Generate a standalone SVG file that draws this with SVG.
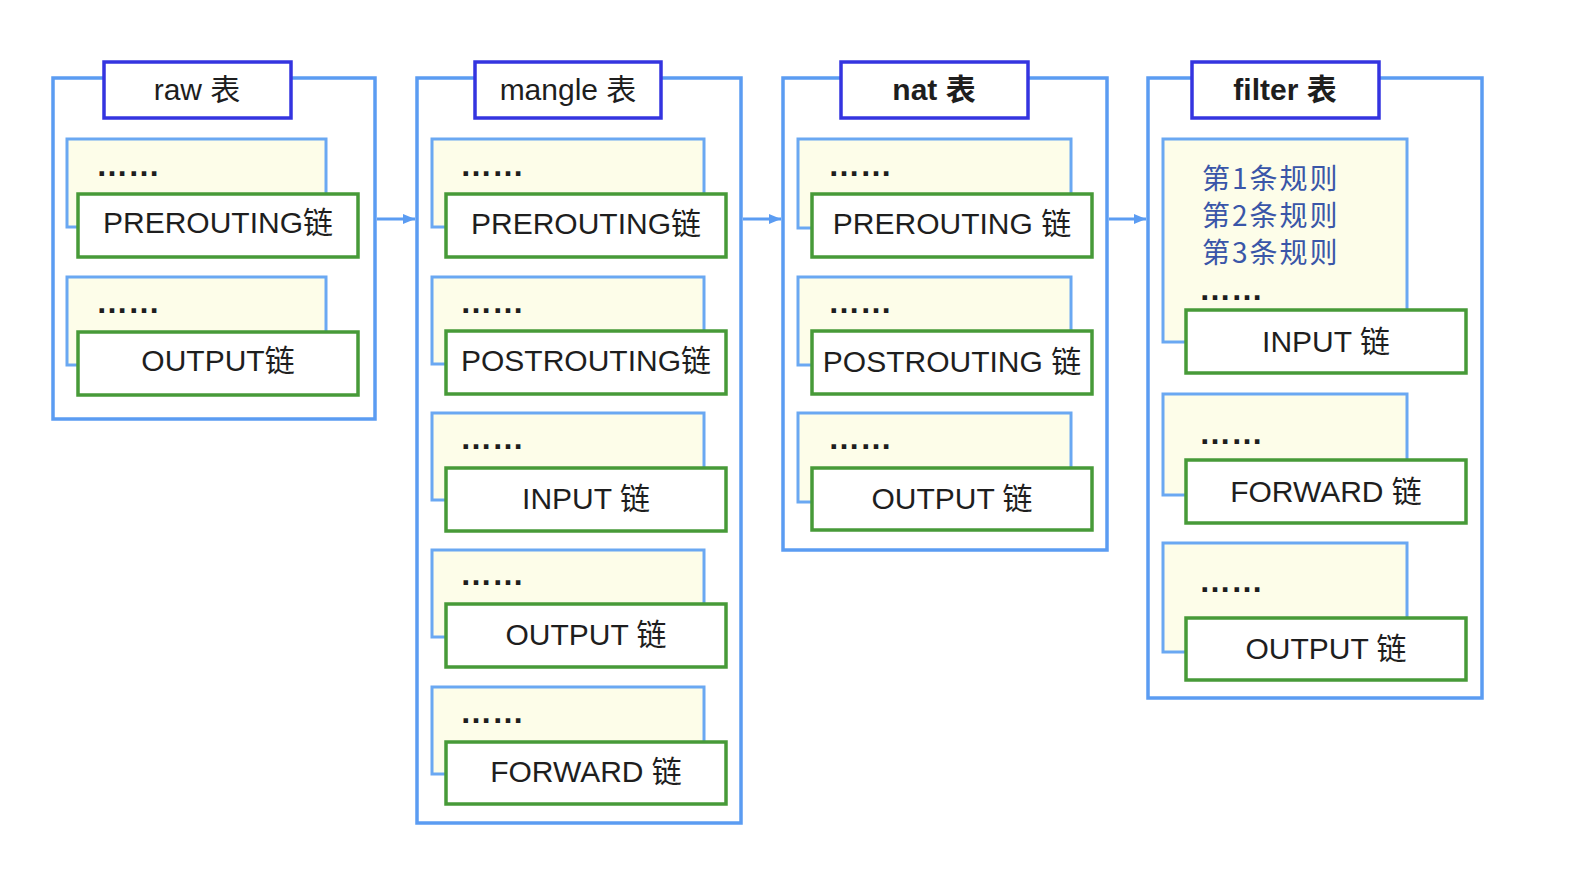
<svg xmlns="http://www.w3.org/2000/svg" width="1570" height="890" viewBox="0 0 1570 890">
<defs>
<style>
.outer{fill:#ffffff;stroke:#5b9cf2;stroke-width:3.5}
.title{fill:#ffffff;stroke:#3434e0;stroke-width:3.5}
.rules{fill:#fdfde9;stroke:#6aa8f2;stroke-width:3}
.chain{fill:#ffffff;stroke:#479a38;stroke-width:3.5}
text{font-family:"Liberation Sans","Noto Sans CJK SC",sans-serif;fill:#1e1e1e}
.tt{font-size:30px;text-anchor:middle}
.tb{font-weight:bold}
.cl{font-size:30px;text-anchor:middle}
.dots{font-size:32px;font-weight:bold}
.rl{font-family:"Noto Sans CJK SC",sans-serif;font-size:28px;letter-spacing:2px;fill:#3a56a8}
.conn{stroke:#5b9cf2;stroke-width:3;fill:none}
</style>
<marker id="ah" markerWidth="12" markerHeight="10" refX="12" refY="5" orient="auto" markerUnits="userSpaceOnUse">
<path d="M0,0 L12,5 L0,10 Z" fill="#5b9cf2"/>
</marker>
</defs>
<rect width="1570" height="890" fill="#ffffff"/>

<g id="connectors">
<line class="conn" x1="377" y1="219" x2="415" y2="219" marker-end="url(#ah)"/>
<line class="conn" x1="743" y1="219" x2="781" y2="219" marker-end="url(#ah)"/>
<line class="conn" x1="1109" y1="219" x2="1146" y2="219" marker-end="url(#ah)"/>
</g>

<g id="raw">
<rect class="outer" x="53" y="78" width="322" height="341"/>
<rect class="title" x="104" y="62" width="187" height="56"/>
<text class="tt" x="197" y="100">raw 表</text>
<g id="raw-prerouting">
<rect class="rules" x="67" y="139" width="259" height="88"/>
<text class="dots" x="96" y="176">……</text>
<rect class="chain" x="78" y="194" width="280" height="63"/>
<text class="cl" x="218" y="233">PREROUTING链</text>
</g>
<g id="raw-output">
<rect class="rules" x="67" y="277" width="259" height="88"/>
<text class="dots" x="96" y="313">……</text>
<rect class="chain" x="78" y="332" width="280" height="63"/>
<text class="cl" x="218" y="371">OUTPUT链</text>
</g>
</g>

<g id="mangle">
<rect class="outer" x="417" y="78" width="324" height="745"/>
<rect class="title" x="475" y="62" width="186" height="56"/>
<text class="tt" x="568" y="100">mangle 表</text>
<g id="mangle-prerouting">
<rect class="rules" x="432" y="139" width="272" height="88"/>
<text class="dots" x="460" y="176">……</text>
<rect class="chain" x="446" y="194" width="280" height="63"/>
<text class="cl" x="586" y="234">PREROUTING链</text>
</g>
<g id="mangle-postrouting">
<rect class="rules" x="432" y="277" width="272" height="87"/>
<text class="dots" x="460" y="313">……</text>
<rect class="chain" x="446" y="331" width="280" height="63"/>
<text class="cl" x="586" y="371">POSTROUTING链</text>
</g>
<g id="mangle-input">
<rect class="rules" x="432" y="413" width="272" height="87"/>
<text class="dots" x="460" y="449">……</text>
<rect class="chain" x="446" y="468" width="280" height="63"/>
<text class="cl" x="586" y="509">INPUT 链</text>
</g>
<g id="mangle-output">
<rect class="rules" x="432" y="550" width="272" height="87"/>
<text class="dots" x="460" y="585">……</text>
<rect class="chain" x="446" y="604" width="280" height="63"/>
<text class="cl" x="586" y="645">OUTPUT 链</text>
</g>
<g id="mangle-forward">
<rect class="rules" x="432" y="687" width="272" height="87"/>
<text class="dots" x="460" y="723">……</text>
<rect class="chain" x="446" y="742" width="280" height="62"/>
<text class="cl" x="586" y="782">FORWARD 链</text>
</g>
</g>

<g id="nat">
<rect class="outer" x="783" y="78" width="324" height="472"/>
<rect class="title" x="841" y="62" width="187" height="56"/>
<text class="tt tb" x="934" y="100">nat 表</text>
<g id="nat-prerouting">
<rect class="rules" x="798" y="139" width="273" height="89"/>
<text class="dots" x="828" y="176">……</text>
<rect class="chain" x="812" y="194" width="280" height="63"/>
<text class="cl" x="952" y="234">PREROUTING 链</text>
</g>
<g id="nat-postrouting">
<rect class="rules" x="798" y="277" width="273" height="88"/>
<text class="dots" x="828" y="313">……</text>
<rect class="chain" x="812" y="331" width="280" height="63"/>
<text class="cl" x="952" y="372">POSTROUTING 链</text>
</g>
<g id="nat-output">
<rect class="rules" x="798" y="413" width="273" height="89"/>
<text class="dots" x="828" y="449">……</text>
<rect class="chain" x="812" y="468" width="280" height="62"/>
<text class="cl" x="952" y="509">OUTPUT 链</text>
</g>
</g>

<g id="filter">
<rect class="outer" x="1148" y="78" width="334" height="620"/>
<rect class="title" x="1192" y="62" width="187" height="56"/>
<text class="tt tb" x="1285" y="100">filter 表</text>
<g id="filter-input">
<rect class="rules" x="1163" y="139" width="244" height="203"/>
<text class="rl" x="1202" y="189">第1条规则</text>
<text class="rl" x="1202" y="226">第2条规则</text>
<text class="rl" x="1202" y="263">第3条规则</text>
<text class="dots" x="1199" y="300">……</text>
<rect class="chain" x="1186" y="310" width="280" height="63"/>
<text class="cl" x="1326" y="352">INPUT 链</text>
</g>
<g id="filter-forward">
<rect class="rules" x="1163" y="394" width="244" height="101"/>
<text class="dots" x="1199" y="444">……</text>
<rect class="chain" x="1186" y="460" width="280" height="63"/>
<text class="cl" x="1326" y="502">FORWARD 链</text>
</g>
<g id="filter-output">
<rect class="rules" x="1163" y="543" width="244" height="109"/>
<text class="dots" x="1199" y="592">……</text>
<rect class="chain" x="1186" y="618" width="280" height="62"/>
<text class="cl" x="1326" y="659">OUTPUT 链</text>
</g>
</g>
</svg>
